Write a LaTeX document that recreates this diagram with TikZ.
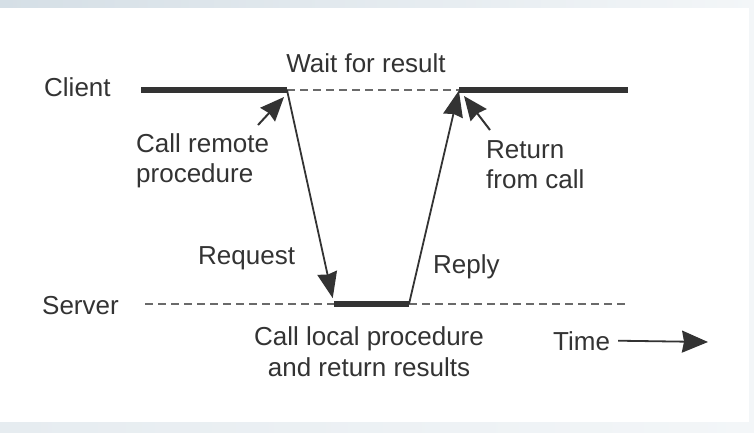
\documentclass[tikz,border=0pt]{standalone}
\usepackage{fontspec}
\setmainfont{Liberation Sans}
\usetikzlibrary{arrows.meta}
\definecolor{ink}{HTML}{333333}
\definecolor{dashc}{HTML}{6A6A6A}
\definecolor{bandA}{HTML}{D5DFE6}
\definecolor{bandB}{HTML}{F3F6F8}
\tikzset{
  lbl/.style={inner sep=0pt, text=ink, font=\fontsize{26bp}{29.5bp}\selectfont, align=left},
  busy/.style={draw=ink, line width=6bp},
  idle/.style={draw=dashc, line width=1.6bp, dash pattern=on 8bp off 5bp},
  msg/.style={draw=ink, line width=1.8bp, -{Stealth[length=26bp,width=20bp,inset=2bp]}},
  pointer/.style={draw=ink, line width=2bp, -{Stealth[length=24bp,width=20bp,inset=2bp]}},
}
\begin{document}
\begin{tikzpicture}[x=1bp,y=-1bp]
\useasboundingbox (0,0) rectangle (754,432);
\fill[white] (0,0) rectangle (754,432);
\shade[left color=bandA, right color=bandB] (0,0) rectangle (754,7);
\shade[left color=bandA!60!white, right color=bandB] (0,422) rectangle (754,432);
\fill[bandB] (749,7) rectangle (754,422);

% coordinates
\coordinate (c1) at (141,90);
\coordinate (c2) at (287,90);
\coordinate (c3) at (459,90);
\coordinate (c4) at (628,90);
\coordinate (s0) at (145,304);
\coordinate (s1) at (334,304);
\coordinate (s2) at (409,304);
\coordinate (s3) at (627,304);
\coordinate (crTail) at (258,125);
\coordinate (crTip) at (284,97);
\coordinate (rtTail) at (490,130);
\coordinate (rtTip) at (464,96);
\coordinate (timeTip) at (708,342);

% timelines
\draw[idle] (c2) -- (c3);
\draw[busy] (c1) -- (c2);
\draw[busy] (c3) -- (c4);
\draw[idle] (s0) -- (s1);
\draw[idle] (s2) -- (s3);
\draw[busy] (s1) -- (s2);

% messages
\draw[msg, shorten >=6bp] (c2) -- (s1);
\draw[msg, shorten >=0.5bp] (s2) -- (c3);
\draw[pointer] (crTail) -- (crTip);
\draw[pointer] (rtTail) -- (rtTip);

% labels
\node[lbl, anchor=base west] (client) at (44,96) {Client};
\node[lbl, anchor=base west] (server) at (42,314) {Server};
\node[lbl, anchor=base] (wait) at (366,72) {Wait for result};
\node[lbl, anchor=base west] (callremote) at (136,182) {Call remote\\procedure};
\node[lbl, anchor=base west] (return) at (486,188) {Return\\from call};
\node[lbl, anchor=base west] (request) at (198,264) {Request};
\node[lbl, anchor=base west] (reply) at (433,273) {Reply};
\node[lbl, anchor=base, align=center, font=\fontsize{26bp}{31bp}\selectfont] (local) at (369,376) {Call local procedure\\and return results};
\node[lbl, anchor=base west] (time) at (553,350) {Time};
\draw[draw=ink, line width=1.8bp, -{Stealth[length=26bp,width=22bp,inset=2bp]}] (time.east) ++(8bp,0) -- (timeTip);
\end{tikzpicture}
\end{document}
